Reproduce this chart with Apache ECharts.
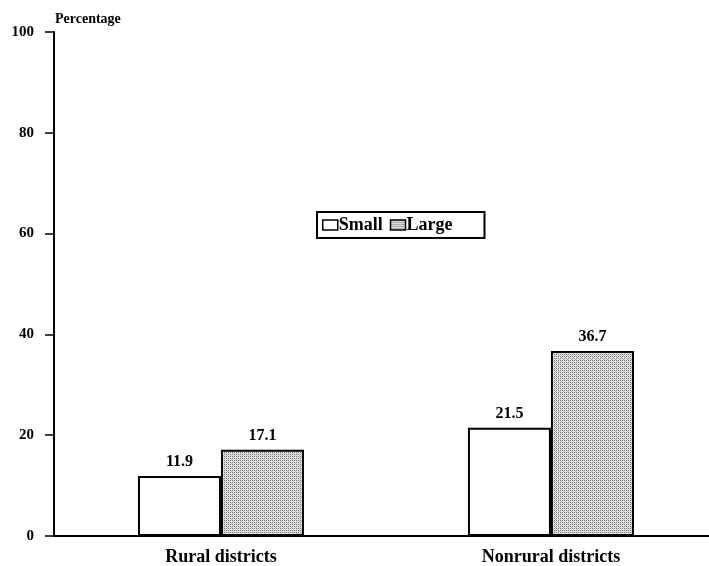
<!DOCTYPE html>
<html><head><meta charset="utf-8">
<script src="https://cdn.jsdelivr.net/npm/echarts@6/dist/echarts.min.js"></script>
<style>html,body{margin:0;padding:0;background:#fff}#c{width:709px;height:566px}</style>
</head><body><div id="c"></div>
<script>
var categories = ['Rural districts', 'Nonrural districts'];
var smallValues = [11.9, 21.5];
var largeValues = [17.1, 36.7];
var yTicks = [0, 20, 40, 60, 80, 100];

function makePattern() {
  var c = document.createElement('canvas');
  c.width = 4; c.height = 4;
  var ctx = c.getContext('2d');
  ctx.fillStyle = '#e4e4e4';
  ctx.fillRect(0, 0, 4, 4);
  ctx.fillStyle = '#7a7a7a';
  ctx.fillRect(0, 0, 1, 1); ctx.fillRect(2, 2, 1, 1);
  ctx.fillRect(2, 0, 1, 1); ctx.fillRect(0, 2, 1, 1);
  ctx.fillStyle = '#b8b8b8';
  ctx.fillRect(1, 1, 1, 1); ctx.fillRect(3, 3, 1, 1);
  return c;
}
var pat = { image: makePattern(), repeat: 'repeat' };
var font = '"Liberation Serif", "DejaVu Serif", serif';

function pairs(vals) { return vals.map(function (v, i) { return [i, v]; }); }

var chart = echarts.init(document.getElementById('c'), null, { renderer: 'canvas' });
chart.setOption({
  animation: false,
  backgroundColor: '#fff',
  textStyle: { fontFamily: font },
  title: {
    text: 'Percentage', left: 50, top: 7,
    textStyle: { fontFamily: font, fontSize: 14, fontWeight: 'bold', color: '#000' }
  },
  legend: {
    left: 317, top: 212,
    padding: [4, 32, 4, 5],
    borderColor: '#000', borderWidth: 2,
    itemWidth: 15, itemHeight: 10, itemGap: 7,
    icon: 'rect',
    textStyle: { fontFamily: font, fontSize: 18, fontWeight: 'bold', color: '#000', padding: [0, 0, 0, -4] },
    data: [
      { name: 'Small', itemStyle: { color: '#fff', borderColor: '#000', borderWidth: 1.5 } },
      { name: 'Large', itemStyle: { color: pat, borderColor: '#000', borderWidth: 1.5 } }
    ]
  },
  grid: { left: 54, right: 0, top: 32, bottom: 28, containLabel: false },
  xAxis: {
    type: 'value', min: -0.506, max: 1.479,
    axisLine: { show: true, onZero: false, lineStyle: { color: '#000', width: 2 } },
    axisTick: { show: false },
    splitLine: { show: false },
    axisLabel: { fontFamily: font, fontSize: 18, color: '#000', margin: 12, fontWeight: 'bold',
      customValues: [0, 1],
      formatter: function (v) { return categories[Math.round(v)] || ''; } }
  },
  yAxis: {
    type: 'value', min: 0, max: 100, interval: 20,
    axisLine: { show: true, onZero: false, lineStyle: { color: '#000', width: 2 } },
    axisTick: { show: true, length: 9, lineStyle: { color: '#000', width: 1.5 } },
    axisLabel: { fontFamily: font, fontSize: 15, color: '#000', margin: 20, fontWeight: 'bold',
      formatter: function (v) { return yTicks.indexOf(v) >= 0 ? String(v) : ''; } },
    splitLine: { show: false }
  },
  series: [
    {
      name: 'Small', type: 'bar', data: pairs(smallValues), barWidth: 83, barGap: '0%',
      itemStyle: { color: '#fff', borderColor: '#000', borderWidth: 2 },
      label: { show: true, position: 'top', distance: 6, fontFamily: font, fontSize: 16, color: '#000', fontWeight: 'bold',
        formatter: function (p) { return p.value[1].toFixed(1); } }
    },
    {
      name: 'Large', type: 'bar', data: pairs(largeValues), barWidth: 83, barGap: '0%',
      itemStyle: { color: pat, borderColor: '#000', borderWidth: 2 },
      label: { show: true, position: 'top', distance: 6, fontFamily: font, fontSize: 16, color: '#000', fontWeight: 'bold',
        formatter: function (p) { return p.value[1].toFixed(1); } }
    }
  ]
});
</script></body></html>
